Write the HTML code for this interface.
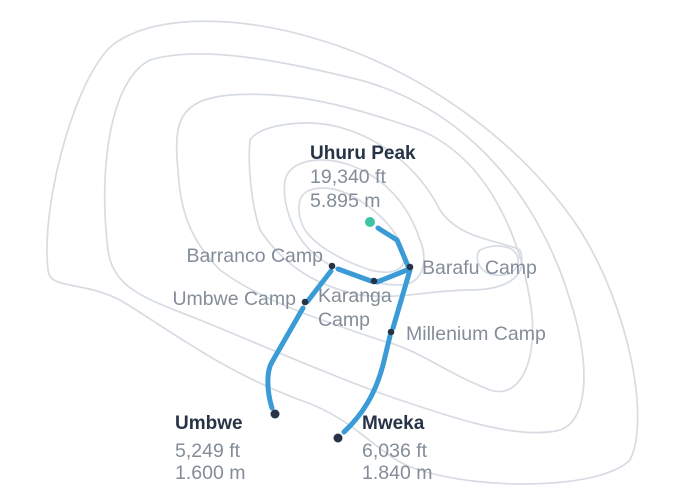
<!DOCTYPE html>
<html><head><meta charset="utf-8"><style>
html,body{margin:0;padding:0;background:#fff;width:680px;height:496px;overflow:hidden}
svg{display:block}
text{font-family:"Liberation Sans",sans-serif;font-size:19.5px;fill:#838d99}
.b{font-weight:bold;fill:#273447;font-size:19px}
</style></head><body>
<svg width="680" height="496" viewBox="0 0 680 496" xmlns="http://www.w3.org/2000/svg">
<g fill="none" stroke="#d6dce2" stroke-width="1.7">
<path d="M48,270 C40,200 80,60 120,40 C160,15 240,15 320,40 C420,70 520,140 580,230 C630,310 650,420 630,460 C600,490 480,490 420,470 C380,460 360,420 300,400 C220,370 170,330 120,300 C80,280 50,290 48,270 Z"/>
<path d="M108,250 C98,170 110,80 150,60 C200,45 280,60 360,80 C470,110 540,200 570,300 C590,360 590,420 560,430 C520,440 460,420 400,400 C340,380 250,340 200,320 C150,300 113,290 108,250 Z"/>
<path d="M178,170 C173,120 180,100 230,95 C300,90 360,110 420,130 C490,160 520,240 530,300 C540,360 520,400 490,390 C440,370 420,350 380,340 C320,320 260,300 220,270 C190,240 180,210 178,170 Z"/>
<path d="M250,140 C260,125 300,120 330,125 C380,135 420,170 440,210 C460,240 500,240 520,250 C530,280 500,290 470,290 C430,290 400,300 360,295 C310,285 280,260 260,230 C250,200 248,160 250,140 Z"/>
<path d="M285,180 C290,160 320,155 350,165 C390,180 410,210 420,240 C430,265 420,285 400,285 C370,285 330,270 310,250 C290,230 282,200 285,180 Z"/>
<path d="M300,200 C305,185 330,185 350,195 C380,210 400,235 405,255 C405,272 390,275 370,270 C340,260 315,245 305,230 C298,218 298,208 300,200 Z"/>
<path d="M480,250 C495,243 515,245 518,258 C520,272 505,278 490,274 C478,270 474,256 480,250 Z"/>
</g>
<g fill="none" stroke="#3b9bd6" stroke-width="5" stroke-linecap="round" stroke-linejoin="round">
<path d="M378,228 L397,240 L408,266"/>
<path d="M407,270 L377,282"/>
<path d="M338,269 L371,281"/>
<path d="M331,271 L307,302 M303,308 L272,362 C266,372 267,392 272,408"/>
<path d="M410,270 L393,328 M390,336 L383,365 C375,395 362,415 344,432"/>
</g>
<circle cx="370" cy="222" r="5" fill="#3cc4a4"/>
<g fill="#273447">
<circle cx="410" cy="267" r="3.3"/><circle cx="374" cy="281" r="3.3"/><circle cx="332" cy="266" r="3.3"/>
<circle cx="305" cy="302" r="3.3"/><circle cx="391" cy="332" r="3.3"/>
<circle cx="275" cy="414" r="4.5"/><circle cx="338" cy="438" r="4.5"/>
</g>
<text x="310" y="159" class="b">Uhuru Peak</text>
<text x="310" y="183">19,340 ft</text>
<text x="310" y="207">5.895 m</text>
<text x="323" y="262" text-anchor="end">Barranco Camp</text>
<text x="296" y="305" text-anchor="end">Umbwe Camp</text>
<text x="318" y="302">Karanga</text>
<text x="318" y="326">Camp</text>
<text x="422" y="274">Barafu Camp</text>
<text x="406" y="340">Millenium Camp</text>
<text x="175" y="429" class="b">Umbwe</text>
<text x="175" y="457">5,249 ft</text>
<text x="175" y="479">1.600 m</text>
<text x="362" y="429" class="b">Mweka</text>
<text x="362" y="457">6,036 ft</text>
<text x="362" y="479">1.840 m</text>
</svg>
</body></html>
